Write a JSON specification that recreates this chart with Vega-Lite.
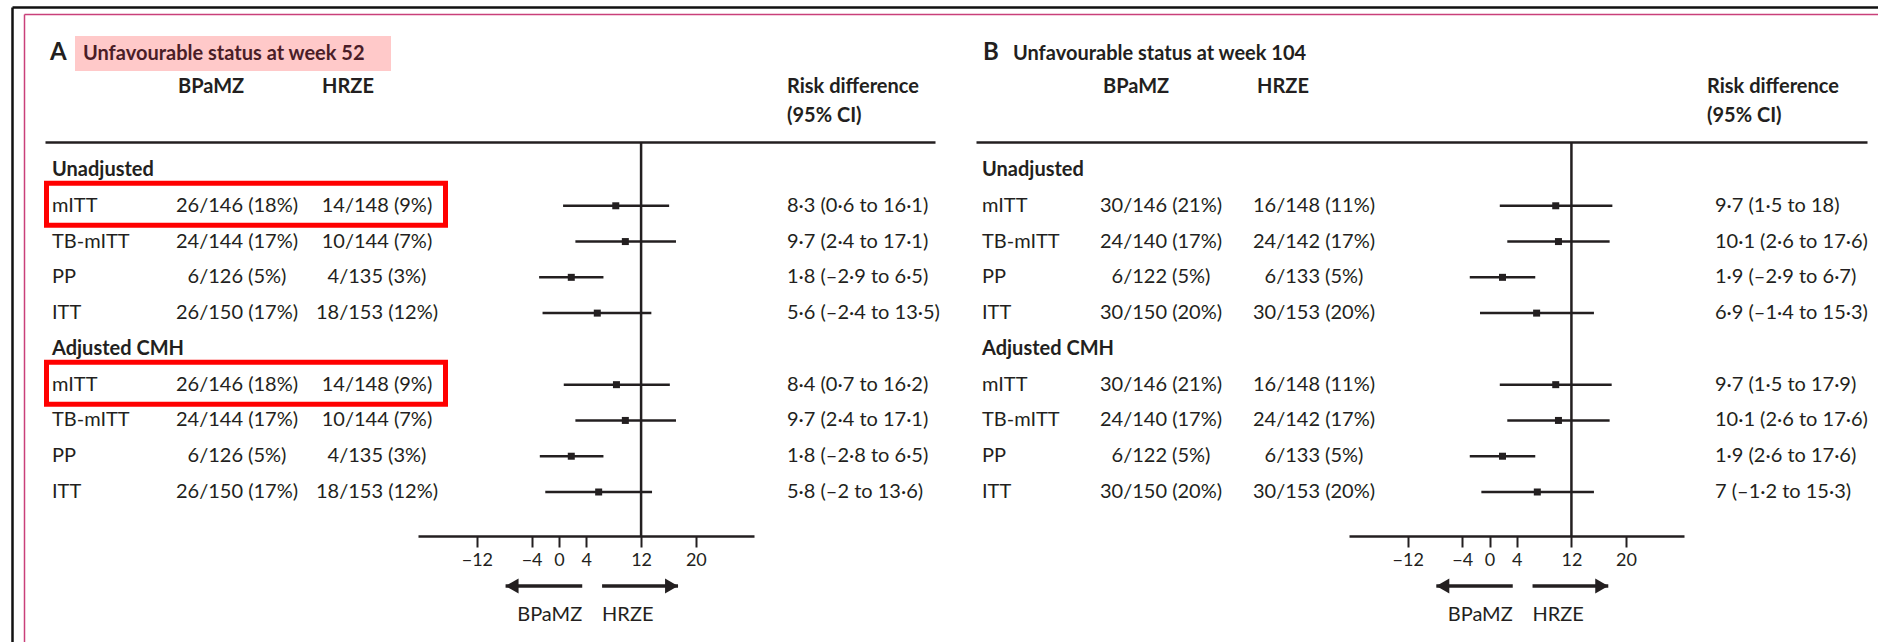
{
  "$schema": "https://vega.github.io/schema/vega-lite/v6.json",
  "width": 1878,
  "height": 394,
  "autosize": {"type": "none"},
  "padding": {"left": 0, "top": 142, "right": 0, "bottom": 106},
  "background": "white",
  "config": {
    "view": {"stroke": null},
    "text": {"font": "Lato", "fontSize": 20, "color": "#231f20"},
    "axis": {"labelFont": "Lato"}
  },
  "datasets": {
    "trials": [
      {"panel": "A", "group": "Unadjusted", "pop": "mITT", "row": "Unadjusted mITT", "bpamz": "26/146 (18%)", "hrze": "14/148 (9%)", "rd": 8.3, "lo": 0.6, "hi": 16.1, "label": "8·3 (0·6 to 16·1)"},
      {"panel": "A", "group": "Unadjusted", "pop": "TB-mITT", "row": "Unadjusted TB-mITT", "bpamz": "24/144 (17%)", "hrze": "10/144 (7%)", "rd": 9.7, "lo": 2.4, "hi": 17.1, "label": "9·7 (2·4 to 17·1)"},
      {"panel": "A", "group": "Unadjusted", "pop": "PP", "row": "Unadjusted PP", "bpamz": "6/126 (5%)", "hrze": "4/135 (3%)", "rd": 1.8, "lo": -2.9, "hi": 6.5, "label": "1·8 (–2·9 to 6·5)"},
      {"panel": "A", "group": "Unadjusted", "pop": "ITT", "row": "Unadjusted ITT", "bpamz": "26/150 (17%)", "hrze": "18/153 (12%)", "rd": 5.6, "lo": -2.4, "hi": 13.5, "label": "5·6 (–2·4 to 13·5)"},
      {"panel": "A", "group": "Adjusted CMH", "pop": "mITT", "row": "Adjusted CMH mITT", "bpamz": "26/146 (18%)", "hrze": "14/148 (9%)", "rd": 8.4, "lo": 0.7, "hi": 16.2, "label": "8·4 (0·7 to 16·2)"},
      {"panel": "A", "group": "Adjusted CMH", "pop": "TB-mITT", "row": "Adjusted CMH TB-mITT", "bpamz": "24/144 (17%)", "hrze": "10/144 (7%)", "rd": 9.7, "lo": 2.4, "hi": 17.1, "label": "9·7 (2·4 to 17·1)"},
      {"panel": "A", "group": "Adjusted CMH", "pop": "PP", "row": "Adjusted CMH PP", "bpamz": "6/126 (5%)", "hrze": "4/135 (3%)", "rd": 1.8, "lo": -2.8, "hi": 6.5, "label": "1·8 (–2·8 to 6·5)"},
      {"panel": "A", "group": "Adjusted CMH", "pop": "ITT", "row": "Adjusted CMH ITT", "bpamz": "26/150 (17%)", "hrze": "18/153 (12%)", "rd": 5.8, "lo": -2.0, "hi": 13.6, "label": "5·8 (–2 to 13·6)"},
      {"panel": "B", "group": "Unadjusted", "pop": "mITT", "row": "Unadjusted mITT", "bpamz": "30/146 (21%)", "hrze": "16/148 (11%)", "rd": 9.7, "lo": 1.5, "hi": 18.0, "label": "9·7 (1·5 to 18)"},
      {"panel": "B", "group": "Unadjusted", "pop": "TB-mITT", "row": "Unadjusted TB-mITT", "bpamz": "24/140 (17%)", "hrze": "24/142 (17%)", "rd": 10.1, "lo": 2.6, "hi": 17.6, "label": "10·1 (2·6 to 17·6)"},
      {"panel": "B", "group": "Unadjusted", "pop": "PP", "row": "Unadjusted PP", "bpamz": "6/122 (5%)", "hrze": "6/133 (5%)", "rd": 1.9, "lo": -2.9, "hi": 6.7, "label": "1·9 (–2·9 to 6·7)"},
      {"panel": "B", "group": "Unadjusted", "pop": "ITT", "row": "Unadjusted ITT", "bpamz": "30/150 (20%)", "hrze": "30/153 (20%)", "rd": 6.9, "lo": -1.4, "hi": 15.3, "label": "6·9 (–1·4 to 15·3)"},
      {"panel": "B", "group": "Adjusted CMH", "pop": "mITT", "row": "Adjusted CMH mITT", "bpamz": "30/146 (21%)", "hrze": "16/148 (11%)", "rd": 9.7, "lo": 1.5, "hi": 17.9, "label": "9·7 (1·5 to 17·9)"},
      {"panel": "B", "group": "Adjusted CMH", "pop": "TB-mITT", "row": "Adjusted CMH TB-mITT", "bpamz": "24/140 (17%)", "hrze": "24/142 (17%)", "rd": 10.1, "lo": 2.6, "hi": 17.6, "label": "10·1 (2·6 to 17·6)"},
      {"panel": "B", "group": "Adjusted CMH", "pop": "PP", "row": "Adjusted CMH PP", "bpamz": "6/122 (5%)", "hrze": "6/133 (5%)", "rd": 1.9, "lo": -2.9, "hi": 6.7, "label": "1·9 (2·6 to 17·6)"},
      {"panel": "B", "group": "Adjusted CMH", "pop": "ITT", "row": "Adjusted CMH ITT", "bpamz": "30/150 (20%)", "hrze": "30/153 (20%)", "rd": 7.0, "lo": -1.2, "hi": 15.3, "label": "7 (–1·2 to 15·3)"}
    ],
    "panels": [
      {"panel": "A", "title": "Unfavourable status at week 52"},
      {"panel": "B", "title": "Unfavourable status at week 104"}
    ],
    "headers": [
      {"panel": "A", "column": "BPaMZ", "line": "header", "text": "BPaMZ"},
      {"panel": "A", "column": "HRZE", "line": "header", "text": "HRZE"},
      {"panel": "A", "column": "RD", "line": "header", "text": "Risk difference"},
      {"panel": "A", "column": "RD", "line": "subheader", "text": "(95% CI)"},
      {"panel": "B", "column": "BPaMZ", "line": "header", "text": "BPaMZ"},
      {"panel": "B", "column": "HRZE", "line": "header", "text": "HRZE"},
      {"panel": "B", "column": "RD", "line": "header", "text": "Risk difference"},
      {"panel": "B", "column": "RD", "line": "subheader", "text": "(95% CI)"}
    ],
    "arrows": [
      {"direction": "BPaMZ", "start": 3.4, "tip": -7.8},
      {"direction": "HRZE", "start": 6.3, "tip": 17.4}
    ]
  },
  "resolve": {"scale": {"x": "independent", "y": "independent", "color": "independent", "shape": "independent"}},
  "layer": [
    {
      "data": {"values": [{}]},
      "mark": {"type": "point", "opacity": 0},
      "encoding": {
        "x": {"datum": 0, "type": "quantitative", "scale": {"domain": [0, 1], "range": [12, 1900], "nice": false, "zero": false}, "axis": {"orient": "top", "offset": 135, "domainColor": "#111111", "domainWidth": 2.5, "ticks": false, "labels": false, "grid": false, "title": null}},
        "y": {"datum": 0, "type": "quantitative", "scale": {"domain": [0, 1], "range": [-135, 600], "nice": false, "zero": false}, "axis": {"orient": "left", "offset": -12, "domainColor": "#111111", "domainWidth": 2.5, "ticks": false, "labels": false, "grid": false, "title": null}}
      }
    },
    {
      "data": {"values": [{}]},
      "mark": {"type": "point", "opacity": 0},
      "encoding": {
        "x": {"datum": 0, "type": "quantitative", "scale": {"domain": [0, 1], "range": [24, 1900], "nice": false, "zero": false}, "axis": {"orient": "top", "offset": 128, "domainColor": "#c9407a", "domainWidth": 1.5, "ticks": false, "labels": false, "grid": false, "title": null}},
        "y": {"datum": 0, "type": "quantitative", "scale": {"domain": [0, 1], "range": [-128, 600], "nice": false, "zero": false}, "axis": {"orient": "left", "offset": -24, "domainColor": "#c9407a", "domainWidth": 1.5, "ticks": false, "labels": false, "grid": false, "title": null}}
      }
    },
    {
      "data": {"values": [{}]},
      "mark": {"type": "point", "opacity": 0},
      "encoding": {
        "x": {"datum": 0, "type": "quantitative", "scale": {"domain": [0, 1], "range": [45, 935], "nice": false, "zero": false}, "axis": {"orient": "top", "offset": 0, "domainColor": "#231f20", "domainWidth": 2.5, "ticks": false, "labels": false, "grid": false, "title": null}}
      }
    },
    {
      "data": {"values": [{}]},
      "mark": {"type": "point", "opacity": 0},
      "encoding": {
        "x": {"datum": 0, "type": "quantitative", "scale": {"domain": [0, 1], "range": [976, 1867], "nice": false, "zero": false}, "axis": {"orient": "top", "offset": 0, "domainColor": "#231f20", "domainWidth": 2.5, "ticks": false, "labels": false, "grid": false, "title": null}}
      }
    },
    {
      "data": {"name": "panels"},
      "transform": [{"filter": {"field": "panel", "equal": "A"}}],
      "mark": {"type": "rect", "fill": "#ffc9c9", "width": 316, "height": 35},
      "encoding": {
        "x": {"field": "panel", "type": "nominal", "scale": {"type": "point", "domain": ["A"], "range": [233, 233], "padding": 0}, "axis": null},
        "y": {"field": "panel", "type": "nominal", "scale": {"type": "point", "domain": ["A"], "range": [-88.5, -88.5], "padding": 0}, "axis": null}
      }
    },
    {
      "data": {"name": "panels"},
      "mark": {"type": "text", "align": "left", "fontSize": 24, "fontWeight": "bold"},
      "encoding": {
        "text": {"field": "panel"},
        "x": {"field": "panel", "type": "nominal", "scale": {"type": "point", "domain": ["A", "B"], "range": [50, 983], "padding": 0}, "axis": null},
        "y": {"datum": "title", "type": "nominal", "scale": {"type": "point", "domain": ["title"], "range": [-89, -89], "padding": 0}, "axis": null}
      }
    },
    {
      "data": {"name": "panels"},
      "mark": {"type": "text", "align": "left", "fontSize": 20, "fontWeight": "bold"},
      "encoding": {
        "text": {"field": "title"},
        "x": {"field": "panel", "type": "nominal", "scale": {"type": "point", "domain": ["A", "B"], "range": [83, 1013], "padding": 0}, "axis": null},
        "y": {"datum": "title", "type": "nominal", "scale": {"type": "point", "domain": ["title"], "range": [-88, -88], "padding": 0}, "axis": null},
        "color": {"field": "panel", "type": "nominal", "scale": {"domain": ["A", "B"], "range": ["#4a1d27", "#231f20"]}, "legend": null}
      }
    },
    {
      "data": {"name": "headers"},
      "transform": [{"filter": {"field": "column", "equal": "BPaMZ"}}],
      "mark": {"type": "text", "align": "left", "fontWeight": "bold"},
      "encoding": {
        "text": {"field": "text"},
        "x": {"field": "panel", "type": "nominal", "scale": {"type": "point", "domain": ["A", "B"], "range": [178, 1103], "padding": 0}, "axis": null},
        "y": {"field": "line", "type": "nominal", "scale": {"type": "point", "domain": ["header", "subheader"], "range": [-55, -26], "padding": 0}, "axis": null}
      }
    },
    {
      "data": {"name": "headers"},
      "transform": [{"filter": {"field": "column", "equal": "HRZE"}}],
      "mark": {"type": "text", "align": "left", "fontWeight": "bold"},
      "encoding": {
        "text": {"field": "text"},
        "x": {"field": "panel", "type": "nominal", "scale": {"type": "point", "domain": ["A", "B"], "range": [322, 1257], "padding": 0}, "axis": null},
        "y": {"field": "line", "type": "nominal", "scale": {"type": "point", "domain": ["header", "subheader"], "range": [-55, -26], "padding": 0}, "axis": null}
      }
    },
    {
      "data": {"name": "headers"},
      "transform": [{"filter": {"field": "column", "equal": "RD"}}],
      "mark": {"type": "text", "align": "left", "fontWeight": "bold"},
      "encoding": {
        "text": {"field": "text"},
        "x": {"field": "panel", "type": "nominal", "scale": {"type": "point", "domain": ["A", "B"], "range": [787, 1707], "padding": 0}, "axis": null},
        "y": {"field": "line", "type": "nominal", "scale": {"type": "point", "domain": ["header", "subheader"], "range": [-55, -26], "padding": 0}, "axis": null}
      }
    },
    {
      "data": {"name": "trials"},
      "transform": [{"aggregate": [{"op": "count", "as": "n"}], "groupby": ["panel", "group"]}],
      "mark": {"type": "text", "align": "left", "fontWeight": "bold"},
      "encoding": {
        "text": {"field": "group"},
        "x": {"field": "panel", "type": "nominal", "scale": {"type": "point", "domain": ["A", "B"], "range": [52, 982], "padding": 0}, "axis": null},
        "y": {"field": "group", "type": "nominal", "scale": {"type": "point", "domain": ["Unadjusted", "Unadjusted mITT", "Unadjusted TB-mITT", "Unadjusted PP", "Unadjusted ITT", "Adjusted CMH", "Adjusted CMH mITT", "Adjusted CMH TB-mITT", "Adjusted CMH PP", "Adjusted CMH ITT"], "range": [28, 350], "padding": 0}, "axis": null}
      }
    },
    {
      "data": {"name": "trials"},
      "mark": {"type": "text", "align": "left"},
      "encoding": {
        "text": {"field": "pop"},
        "x": {"field": "panel", "type": "nominal", "scale": {"type": "point", "domain": ["A", "B"], "range": [52, 982], "padding": 0}, "axis": null},
        "y": {"field": "row", "type": "nominal", "scale": {"type": "point", "domain": ["Unadjusted", "Unadjusted mITT", "Unadjusted TB-mITT", "Unadjusted PP", "Unadjusted ITT", "Adjusted CMH", "Adjusted CMH mITT", "Adjusted CMH TB-mITT", "Adjusted CMH PP", "Adjusted CMH ITT"], "range": [28, 350], "padding": 0}, "axis": null}
      }
    },
    {
      "data": {"name": "trials"},
      "mark": {"type": "text", "align": "center"},
      "encoding": {
        "text": {"field": "bpamz"},
        "x": {"field": "panel", "type": "nominal", "scale": {"type": "point", "domain": ["A", "B"], "range": [237, 1161], "padding": 0}, "axis": null},
        "y": {"field": "row", "type": "nominal", "scale": {"type": "point", "domain": ["Unadjusted", "Unadjusted mITT", "Unadjusted TB-mITT", "Unadjusted PP", "Unadjusted ITT", "Adjusted CMH", "Adjusted CMH mITT", "Adjusted CMH TB-mITT", "Adjusted CMH PP", "Adjusted CMH ITT"], "range": [28, 350], "padding": 0}, "axis": null}
      }
    },
    {
      "data": {"name": "trials"},
      "mark": {"type": "text", "align": "center"},
      "encoding": {
        "text": {"field": "hrze"},
        "x": {"field": "panel", "type": "nominal", "scale": {"type": "point", "domain": ["A", "B"], "range": [377, 1314], "padding": 0}, "axis": null},
        "y": {"field": "row", "type": "nominal", "scale": {"type": "point", "domain": ["Unadjusted", "Unadjusted mITT", "Unadjusted TB-mITT", "Unadjusted PP", "Unadjusted ITT", "Adjusted CMH", "Adjusted CMH mITT", "Adjusted CMH TB-mITT", "Adjusted CMH PP", "Adjusted CMH ITT"], "range": [28, 350], "padding": 0}, "axis": null}
      }
    },
    {
      "data": {"name": "trials"},
      "mark": {"type": "text", "align": "left"},
      "encoding": {
        "text": {"field": "label"},
        "x": {"field": "panel", "type": "nominal", "scale": {"type": "point", "domain": ["A", "B"], "range": [787, 1715], "padding": 0}, "axis": null},
        "y": {"field": "row", "type": "nominal", "scale": {"type": "point", "domain": ["Unadjusted", "Unadjusted mITT", "Unadjusted TB-mITT", "Unadjusted PP", "Unadjusted ITT", "Adjusted CMH", "Adjusted CMH mITT", "Adjusted CMH TB-mITT", "Adjusted CMH PP", "Adjusted CMH ITT"], "range": [28, 350], "padding": 0}, "axis": null}
      }
    },
    {
      "data": {"name": "trials"},
      "transform": [{"filter": {"field": "panel", "equal": "A"}}, {"filter": {"field": "pop", "equal": "mITT"}}],
      "mark": {"type": "rect", "fillOpacity": 0, "stroke": "#ff0000", "strokeWidth": 5, "width": 399, "height": 42},
      "encoding": {
        "x": {"field": "panel", "type": "nominal", "scale": {"type": "point", "domain": ["A"], "range": [246, 246], "padding": 0}, "axis": null},
        "y": {"field": "row", "type": "nominal", "scale": {"type": "point", "domain": ["Unadjusted", "Unadjusted mITT", "Unadjusted TB-mITT", "Unadjusted PP", "Unadjusted ITT", "Adjusted CMH", "Adjusted CMH mITT", "Adjusted CMH TB-mITT", "Adjusted CMH PP", "Adjusted CMH ITT"], "range": [26.5, 348.5], "padding": 0}, "axis": null}
      }
    },
    {
      "data": {"values": [{}]},
      "mark": {"type": "rule", "color": "#231f20", "strokeWidth": 2.5},
      "encoding": {
        "x": {"datum": 12, "type": "quantitative", "scale": {"domain": [-20.6, 28.5], "range": [418, 754], "nice": false, "zero": false}, "axis": null}
      }
    },
    {
      "data": {"name": "trials"},
      "transform": [{"filter": {"field": "panel", "equal": "A"}}],
      "mark": {"type": "rule", "color": "#231f20", "strokeWidth": 2.5},
      "encoding": {
        "x": {"field": "lo", "type": "quantitative", "scale": {"domain": [-20.6, 28.5], "range": [418, 754], "nice": false, "zero": false},
          "axis": {"orient": "bottom", "title": null, "values": [-12, -4, 0, 4, 12, 20], "grid": false, "domainColor": "#231f20", "domainWidth": 2.5, "tickColor": "#231f20", "tickWidth": 2, "tickSize": 11, "labelFontSize": 18, "labelColor": "#231f20", "labelPadding": 4, "labelFlush": false, "labelOverlap": false}},
        "x2": {"field": "hi"},
        "y": {"field": "row", "type": "nominal", "scale": {"type": "point", "domain": ["Unadjusted", "Unadjusted mITT", "Unadjusted TB-mITT", "Unadjusted PP", "Unadjusted ITT", "Adjusted CMH", "Adjusted CMH mITT", "Adjusted CMH TB-mITT", "Adjusted CMH PP", "Adjusted CMH ITT"], "range": [28, 350], "padding": 0}, "axis": null}
      }
    },
    {
      "data": {"name": "trials"},
      "transform": [{"filter": {"field": "panel", "equal": "A"}}],
      "mark": {"type": "point", "shape": "square", "filled": true, "size": 49, "color": "#231f20", "opacity": 1},
      "encoding": {
        "x": {"field": "rd", "type": "quantitative", "scale": {"domain": [-20.6, 28.5], "range": [418, 754], "nice": false, "zero": false}, "axis": null},
        "y": {"field": "row", "type": "nominal", "scale": {"type": "point", "domain": ["Unadjusted", "Unadjusted mITT", "Unadjusted TB-mITT", "Unadjusted PP", "Unadjusted ITT", "Adjusted CMH", "Adjusted CMH mITT", "Adjusted CMH TB-mITT", "Adjusted CMH PP", "Adjusted CMH ITT"], "range": [28, 350], "padding": 0}, "axis": null}
      }
    },
    {
      "data": {"name": "arrows"},
      "mark": {"type": "rule", "color": "#231f20", "strokeWidth": 3.5},
      "encoding": {
        "x": {"field": "start", "type": "quantitative", "scale": {"domain": [-20.6, 28.5], "range": [418, 754], "nice": false, "zero": false}, "axis": null},
        "x2": {"field": "tip"},
        "y": {"datum": "arrow", "type": "nominal", "scale": {"type": "point", "domain": ["arrow", "label"], "range": [444, 473], "padding": 0}, "axis": null}
      }
    },
    {
      "data": {"name": "arrows"},
      "transform": [{"filter": {"field": "direction", "equal": "BPaMZ"}}],
      "mark": {"type": "point", "shape": "triangle-left", "filled": true, "size": 225, "color": "#231f20", "opacity": 1, "xOffset": 6.5},
      "encoding": {
        "x": {"field": "tip", "type": "quantitative", "scale": {"domain": [-20.6, 28.5], "range": [418, 754], "nice": false, "zero": false}, "axis": null},
        "y": {"datum": "arrow", "type": "nominal", "scale": {"type": "point", "domain": ["arrow", "label"], "range": [444, 473], "padding": 0}, "axis": null}
      }
    },
    {
      "data": {"name": "arrows"},
      "transform": [{"filter": {"field": "direction", "equal": "HRZE"}}],
      "mark": {"type": "point", "shape": "triangle-right", "filled": true, "size": 225, "color": "#231f20", "opacity": 1, "xOffset": -6.5},
      "encoding": {
        "x": {"field": "tip", "type": "quantitative", "scale": {"domain": [-20.6, 28.5], "range": [418, 754], "nice": false, "zero": false}, "axis": null},
        "y": {"datum": "arrow", "type": "nominal", "scale": {"type": "point", "domain": ["arrow", "label"], "range": [444, 473], "padding": 0}, "axis": null}
      }
    },
    {
      "data": {"name": "arrows"},
      "transform": [{"filter": {"field": "direction", "equal": "BPaMZ"}}],
      "mark": {"type": "text", "align": "right"},
      "encoding": {
        "text": {"field": "direction"},
        "x": {"field": "start", "type": "quantitative", "scale": {"domain": [-20.6, 28.5], "range": [418, 754], "nice": false, "zero": false}, "axis": null},
        "y": {"datum": "label", "type": "nominal", "scale": {"type": "point", "domain": ["arrow", "label"], "range": [444, 473], "padding": 0}, "axis": null}
      }
    },
    {
      "data": {"name": "arrows"},
      "transform": [{"filter": {"field": "direction", "equal": "HRZE"}}],
      "mark": {"type": "text", "align": "left"},
      "encoding": {
        "text": {"field": "direction"},
        "x": {"field": "start", "type": "quantitative", "scale": {"domain": [-20.6, 28.5], "range": [418, 754], "nice": false, "zero": false}, "axis": null},
        "y": {"datum": "label", "type": "nominal", "scale": {"type": "point", "domain": ["arrow", "label"], "range": [444, 473], "padding": 0}, "axis": null}
      }
    },
    {
      "data": {"values": [{}]},
      "mark": {"type": "rule", "color": "#231f20", "strokeWidth": 2.5},
      "encoding": {
        "x": {"datum": 12, "type": "quantitative", "scale": {"domain": [-20.6, 28.5], "range": [1349, 1684], "nice": false, "zero": false}, "axis": null}
      }
    },
    {
      "data": {"name": "trials"},
      "transform": [{"filter": {"field": "panel", "equal": "B"}}],
      "mark": {"type": "rule", "color": "#231f20", "strokeWidth": 2.5},
      "encoding": {
        "x": {"field": "lo", "type": "quantitative", "scale": {"domain": [-20.6, 28.5], "range": [1349, 1684], "nice": false, "zero": false},
          "axis": {"orient": "bottom", "title": null, "values": [-12, -4, 0, 4, 12, 20], "grid": false, "domainColor": "#231f20", "domainWidth": 2.5, "tickColor": "#231f20", "tickWidth": 2, "tickSize": 11, "labelFontSize": 18, "labelColor": "#231f20", "labelPadding": 4, "labelFlush": false, "labelOverlap": false}},
        "x2": {"field": "hi"},
        "y": {"field": "row", "type": "nominal", "scale": {"type": "point", "domain": ["Unadjusted", "Unadjusted mITT", "Unadjusted TB-mITT", "Unadjusted PP", "Unadjusted ITT", "Adjusted CMH", "Adjusted CMH mITT", "Adjusted CMH TB-mITT", "Adjusted CMH PP", "Adjusted CMH ITT"], "range": [28, 350], "padding": 0}, "axis": null}
      }
    },
    {
      "data": {"name": "trials"},
      "transform": [{"filter": {"field": "panel", "equal": "B"}}],
      "mark": {"type": "point", "shape": "square", "filled": true, "size": 49, "color": "#231f20", "opacity": 1},
      "encoding": {
        "x": {"field": "rd", "type": "quantitative", "scale": {"domain": [-20.6, 28.5], "range": [1349, 1684], "nice": false, "zero": false}, "axis": null},
        "y": {"field": "row", "type": "nominal", "scale": {"type": "point", "domain": ["Unadjusted", "Unadjusted mITT", "Unadjusted TB-mITT", "Unadjusted PP", "Unadjusted ITT", "Adjusted CMH", "Adjusted CMH mITT", "Adjusted CMH TB-mITT", "Adjusted CMH PP", "Adjusted CMH ITT"], "range": [28, 350], "padding": 0}, "axis": null}
      }
    },
    {
      "data": {"name": "arrows"},
      "mark": {"type": "rule", "color": "#231f20", "strokeWidth": 3.5},
      "encoding": {
        "x": {"field": "start", "type": "quantitative", "scale": {"domain": [-20.6, 28.5], "range": [1349, 1684], "nice": false, "zero": false}, "axis": null},
        "x2": {"field": "tip"},
        "y": {"datum": "arrow", "type": "nominal", "scale": {"type": "point", "domain": ["arrow", "label"], "range": [444, 473], "padding": 0}, "axis": null}
      }
    },
    {
      "data": {"name": "arrows"},
      "transform": [{"filter": {"field": "direction", "equal": "BPaMZ"}}],
      "mark": {"type": "point", "shape": "triangle-left", "filled": true, "size": 225, "color": "#231f20", "opacity": 1, "xOffset": 6.5},
      "encoding": {
        "x": {"field": "tip", "type": "quantitative", "scale": {"domain": [-20.6, 28.5], "range": [1349, 1684], "nice": false, "zero": false}, "axis": null},
        "y": {"datum": "arrow", "type": "nominal", "scale": {"type": "point", "domain": ["arrow", "label"], "range": [444, 473], "padding": 0}, "axis": null}
      }
    },
    {
      "data": {"name": "arrows"},
      "transform": [{"filter": {"field": "direction", "equal": "HRZE"}}],
      "mark": {"type": "point", "shape": "triangle-right", "filled": true, "size": 225, "color": "#231f20", "opacity": 1, "xOffset": -6.5},
      "encoding": {
        "x": {"field": "tip", "type": "quantitative", "scale": {"domain": [-20.6, 28.5], "range": [1349, 1684], "nice": false, "zero": false}, "axis": null},
        "y": {"datum": "arrow", "type": "nominal", "scale": {"type": "point", "domain": ["arrow", "label"], "range": [444, 473], "padding": 0}, "axis": null}
      }
    },
    {
      "data": {"name": "arrows"},
      "transform": [{"filter": {"field": "direction", "equal": "BPaMZ"}}],
      "mark": {"type": "text", "align": "right"},
      "encoding": {
        "text": {"field": "direction"},
        "x": {"field": "start", "type": "quantitative", "scale": {"domain": [-20.6, 28.5], "range": [1349, 1684], "nice": false, "zero": false}, "axis": null},
        "y": {"datum": "label", "type": "nominal", "scale": {"type": "point", "domain": ["arrow", "label"], "range": [444, 473], "padding": 0}, "axis": null}
      }
    },
    {
      "data": {"name": "arrows"},
      "transform": [{"filter": {"field": "direction", "equal": "HRZE"}}],
      "mark": {"type": "text", "align": "left"},
      "encoding": {
        "text": {"field": "direction"},
        "x": {"field": "start", "type": "quantitative", "scale": {"domain": [-20.6, 28.5], "range": [1349, 1684], "nice": false, "zero": false}, "axis": null},
        "y": {"datum": "label", "type": "nominal", "scale": {"type": "point", "domain": ["arrow", "label"], "range": [444, 473], "padding": 0}, "axis": null}
      }
    }
  ]
}
